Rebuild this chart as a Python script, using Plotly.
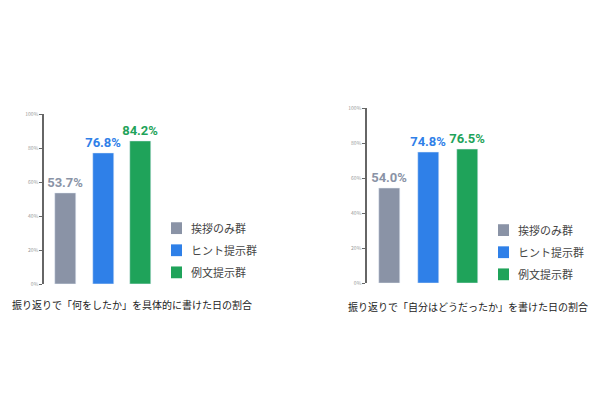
import plotly.graph_objects as go

groups = ["挨拶のみ群", "ヒント提示群", "例文提示群"]
left_vals = [53.7, 76.8, 84.2]
right_vals = [54.0, 74.8, 76.5]
left_title = "振り返りで「何をしたか」を具体的に書けた日の割合"
right_title = "振り返りで「自分はどうだったか」を書けた日の割合"
colors = ["#8a93a6", "#2f80e8", "#1fa35a"]

W, H = 600, 400
fig = go.Figure()
panels = [
    ("x", "y", left_vals, (36, 156), -0.575, 37.5, (277, 104)),
    ("x2", "y2", right_vals, (359, 486), -0.577, 39.0, (276, 98)),
]
layout = dict(width=W, height=H, margin=dict(l=0, r=0, t=0, b=0),
              plot_bgcolor="white", paper_bgcolor="white", showlegend=False,
              font=dict(family="Noto Sans CJK JP"), bargap=0)
for i, (xa, ya, vals, (x0, x1), r0, step, (y0, y1)) in enumerate(panels):
    fig.add_trace(go.Bar(
        x=[0, 1, 2], y=vals, xaxis=xa, yaxis=ya, width=0.56,
        marker=dict(color=colors),
        text=[f"{v:.1f}%" for v in vals], textposition="outside",
        constraintext="none",
        textfont=dict(color=colors, size=13, family="Roboto", weight="bold"),
        cliponaxis=False, hoverinfo="skip"))
    sx = "" if i == 0 else "2"
    layout["xaxis" + sx] = dict(domain=[x0 / W, x1 / W],
                                range=[r0, r0 + (x1 - x0) / step],
                                visible=False, anchor="y" + sx)
    layout["yaxis" + sx] = dict(domain=[1 - y0 / H, 1 - y1 / H], range=[0, 100],
                                tickvals=[0, 20, 40, 60, 80, 100],
                                ticktext=["0%", "20%", "40%", "60%", "80%", "100%"],
                                showgrid=False, zeroline=False, showline=True,
                                linecolor="#666", linewidth=1.5, ticks="outside",
                                ticklen=3, tickcolor="#666",
                                tickfont=dict(size=5, color="#999"),
                                anchor="x" + sx)

shapes, annotations = [], []
legends = [(163, 220), (490, 222)]
for (lx, ly) in legends:
    for j, g in enumerate(groups):
        cy = ly + j * 22.5
        shapes.append(dict(type="rect", xref="paper", yref="paper",
                           x0=lx / W, x1=(lx + 11) / W,
                           y0=1 - (cy + 6) / H, y1=1 - (cy - 6) / H,
                           fillcolor=colors[j], line=dict(width=0)))
        annotations.append(dict(text=g, xref="paper", yref="paper",
                                x=(lx + 18) / W, y=1 - cy / H, xanchor="left",
                                yanchor="middle", showarrow=False,
                                font=dict(size=11, color="#444")))
annotations.append(dict(text=left_title, xref="paper", yref="paper", x=2 / W,
                        y=1 - 298 / H, xanchor="left", yanchor="middle",
                        showarrow=False, font=dict(size=10, color="#222")))
annotations.append(dict(text=right_title, xref="paper", yref="paper", x=338 / W,
                        y=1 - 300 / H, xanchor="left", yanchor="middle",
                        showarrow=False, font=dict(size=10, color="#222")))
layout["shapes"] = shapes
layout["annotations"] = annotations
fig.update_layout(**layout)
fig.write_html("out.html")
